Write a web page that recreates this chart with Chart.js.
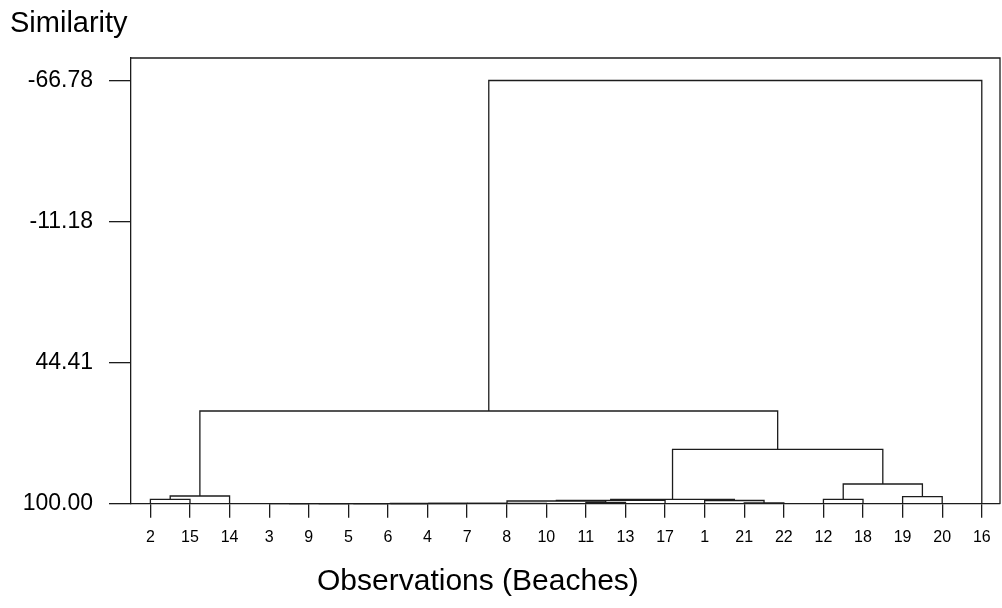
<!DOCTYPE html>
<html>
<head>
<meta charset="utf-8">
<title>Similarity dendrogram</title>
<script src="https://cdn.jsdelivr.net/npm/chart.js@4.4.1/dist/chart.umd.min.js"></script>
<style>
  html, body { margin: 0; padding: 0; background: #fff; }
  #wrap { width: 1002px; height: 608px; }
</style>
</head>
<body>
<div id="wrap"><canvas id="dendro" width="1002" height="608"></canvas></div>
<script>
// Leaf order along the bottom axis (beach numbers)
const leafLabels = ["2", "15", "14", "3", "9", "5", "6", "4", "7", "8", "10", "11", "13", "17", "1", "21", "22", "12", "18", "19", "20", "16"];

// Similarity values marked on the vertical axis
const simTicks = [-66.78, -11.18, 44.41, 100.00];

// Leaves sit on the 100% similarity line
const baseLevel = 100.00;

// Agglomeration steps: step k joins mergeLeft[k] and mergeRight[k] at mergeLevel[k].
// A child is either a leaf label or "m<k>" for an earlier step.
const mergeLeft  = ["3", "m0", "m1", "m2", "m3", "m4", "m5", "11", "m6", "m8", "21", "1", "m9", "2", "m13", "12", "19", "m15", "m12", "m14", "m19"];
const mergeRight = ["9", "5", "6", "4", "7", "8", "10", "13", "m7", "17", "22", "m10", "m11", "15", "14", "18", "20", "m16", "m17", "m18", "16"];
const mergeLevel = [100.00, 100.00, 100.00, 99.98, 99.92, 99.88, 99.84, 99.45, 98.94, 98.66, 99.68, 98.74, 98.27, 98.27, 96.97, 98.27, 97.24, 92.24, 78.56, 63.47, -66.78];

const LINE_COLOR = "#1c1c1c";

// Build one 4-point "⊓" path per merge, in data units
function buildLinks() {
  const nodes = [];
  const place = (ref) => {
    if (ref.startsWith("m")) return nodes[Number(ref.slice(1))];
    return { x: leafLabels.indexOf(ref), y: baseLevel };
  };

  const datasets = [];
  for (let k = 0; k < mergeLevel.length; k++) {
    const a = place(mergeLeft[k]);
    const b = place(mergeRight[k]);
    const h = mergeLevel[k];
    datasets.push({
      data: [
        { x: a.x, y: a.y },
        { x: a.x, y: h },
        { x: b.x, y: h },
        { x: b.x, y: b.y },
      ],
      showLine: true,
      borderColor: LINE_COLOR,
      borderWidth: 1.3,
      pointRadius: 0,
      pointHoverRadius: 0,
      fill: false,
      clip: false,
    });
    nodes[k] = { x: (a.x + b.x) / 2, y: h };
  }
  return datasets;
}

// Closes the plot box and writes the two axis captions
const frameAndCaptions = {
  id: "frameAndCaptions",
  afterDatasetsDraw(chart) {
    const { ctx, chartArea } = chart;
    ctx.save();
    ctx.strokeStyle = LINE_COLOR;
    ctx.lineWidth = 1.3;
    ctx.beginPath();
    ctx.moveTo(chartArea.left, chartArea.top);
    ctx.lineTo(chartArea.right, chartArea.top);
    ctx.lineTo(chartArea.right, chartArea.bottom);
    ctx.stroke();

    ctx.fillStyle = "#000";
    ctx.textBaseline = "alphabetic";
    ctx.textAlign = "left";
    ctx.font = "29px 'Liberation Sans', Arial, sans-serif";
    ctx.fillText("Similarity", 10, 32);
    ctx.font = "30px 'Liberation Sans', Arial, sans-serif";
    ctx.fillText("Observations (Beaches)", 317, 590);
    ctx.restore();
  },
};

Chart.defaults.font.family = "'Liberation Sans', Arial, sans-serif";
Chart.defaults.color = "#000";

new Chart(document.getElementById("dendro"), {
  type: "scatter",
  data: { datasets: buildLinks() },
  plugins: [frameAndCaptions],
  options: {
    responsive: false,
    animation: false,
    layout: { padding: { left: 0, right: 2, top: 58, bottom: 0 } },
    plugins: {
      legend: { display: false },
      tooltip: { enabled: false },
    },
    scales: {
      x: {
        type: "linear",
        min: -0.49,
        max: 21.46,
        afterBuildTicks: (scale) => {
          scale.ticks = leafLabels.map((_, i) => ({ value: i }));
        },
        afterFit: (scale) => {
          scale.height = 104.3;
        },
        ticks: {
          autoSkip: false,
          maxRotation: 0,
          padding: 10,
          font: { size: 16 },
          callback: (v, i) => leafLabels[i],
        },
        grid: { drawOnChartArea: false, tickLength: 14, color: LINE_COLOR, lineWidth: 1.3 },
        border: { color: LINE_COLOR, width: 1.3 },
      },
      y: {
        type: "linear",
        reverse: true,
        min: -75.65,
        max: 100,
        afterBuildTicks: (scale) => {
          scale.ticks = simTicks.map((v) => ({ value: v }));
        },
        afterFit: (scale) => {
          scale.width = 131;
        },
        ticks: {
          padding: 16,
          font: { size: 23 },
          callback: (v) => Number(v).toFixed(2),
        },
        grid: { drawOnChartArea: false, tickLength: 22, color: LINE_COLOR, lineWidth: 1.3 },
        border: { color: LINE_COLOR, width: 1.3 },
      },
    },
  },
});
</script>
</body>
</html>
